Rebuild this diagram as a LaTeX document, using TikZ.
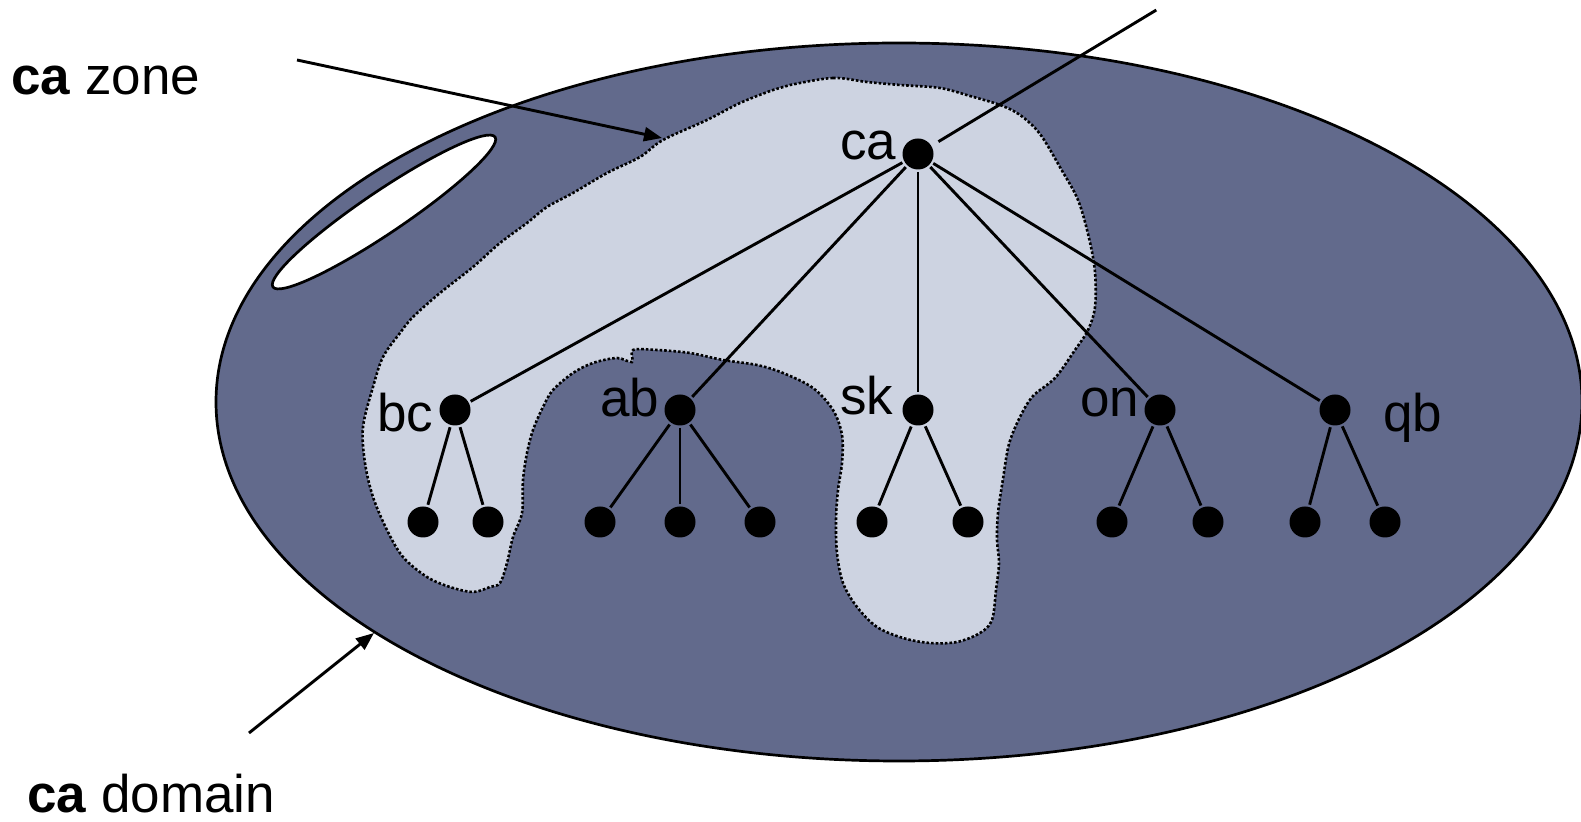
\documentclass[tikz,border=0pt]{standalone}
\usepackage{fontspec}
\setmainfont{Liberation Sans}
\usetikzlibrary{arrows.meta}
\definecolor{domainfill}{RGB}{98,106,140}
\definecolor{zonefill}{RGB}{205,211,225}
\begin{document}
\begin{tikzpicture}[x=0.5pt,y=-0.5pt,
  dot/.style={circle,fill=black,inner sep=0pt,minimum size=15.5pt},
  lbl/.style={anchor=base west,inner sep=0pt,font=\fontsize{26.5pt}{32pt}\selectfont},
  edge/.style={line width=1.45pt,shorten <=1pt,shorten >=1pt},
  ptr/.style={line width=1.45pt,-{Triangle[length=9pt,width=7pt]}},
  border/.style={line width=1.35pt,draw=black},
  zoneline/.style={line width=1.3pt,dash pattern=on 1.3pt off 1pt}]
\useasboundingbox (0,0) rectangle (1581,822);
% domain
\fill[domainfill] (899,402) ellipse [x radius=341.5pt,y radius=179.5pt];
\draw[border] (899,402) ellipse [x radius=341.5pt,y radius=179.5pt];
% hole
\draw[border,fill=white,rotate around={34:(384,212)}] (384,212) ellipse [x radius=67pt,y radius=10.5pt];
% zone
\fill[zonefill] plot[smooth cycle,tension=0.55] coordinates {
(790,85) (833,78) (867,82) (900,85) (940,88) (970,96) (1000,105) (1020,115)
(1040,134) (1061,169) (1078,200) (1089,238) (1095,272) (1095,307) (1088,330)
(1075,350) (1055,378) (1033,396) (1020,417) (1009,444) (1003,479) (998,513)
(997,540) (999,563) (996,590) (992,620) (980,633) (957,642) (930,643) (903,638)
(877,627) (857,607) (843,583) (837,553) (836,520) (838,490) (842,463) (842,435)
(833,410) (813,388) (783,373) (757,365) (723,360) (690,353) (657,350) (633,350)
(632,362) (617,358) (593,363) (573,373) (553,390) (543,407) (533,430) (527,453)
(523,480) (522,513) (513,537) (507,563) (500,583) (490,587) (473,592) (450,587)
(427,577) (403,557) (387,530) (373,497) (365,463) (363,427) (373,387) (383,357)
(400,333) (413,317) (440,293) (473,267) (500,243) (527,223) (547,207) (573,193)
(607,173) (640,157) (663,140) (707,120) (740,103) (773,90)};
\draw[zoneline] plot[smooth cycle,tension=0.55] coordinates {
(790,85) (833,78) (867,82) (900,85) (940,88) (970,96) (1000,105) (1020,115)
(1040,134) (1061,169) (1078,200) (1089,238) (1095,272) (1095,307) (1088,330)
(1075,350) (1055,378) (1033,396) (1020,417) (1009,444) (1003,479) (998,513)
(997,540) (999,563) (996,590) (992,620) (980,633) (957,642) (930,643) (903,638)
(877,627) (857,607) (843,583) (837,553) (836,520) (838,490) (842,463) (842,435)
(833,410) (813,388) (783,373) (757,365) (723,360) (690,353) (657,350) (633,350)
(632,362) (617,358) (593,363) (573,373) (553,390) (543,407) (533,430) (527,453)
(523,480) (522,513) (513,537) (507,563) (500,583) (490,587) (473,592) (450,587)
(427,577) (403,557) (387,530) (373,497) (365,463) (363,427) (373,387) (383,357)
(400,333) (413,317) (440,293) (473,267) (500,243) (527,223) (547,207) (573,193)
(607,173) (640,157) (663,140) (707,120) (740,103) (773,90)};
% nodes
\node[dot] (ca) at (918,154) {};
\node[dot] (bc) at (455,410) {};
\node[dot] (ab) at (680,410) {};
\node[dot] (sk) at (918,410) {};
\node[dot] (on) at (1160,410) {};
\node[dot] (qb) at (1335,410) {};
\node[dot] (bc1) at (423,522) {};
\node[dot] (bc2) at (488,522) {};
\node[dot] (ab1) at (600,522) {};
\node[dot] (ab2) at (680,522) {};
\node[dot] (ab3) at (760,522) {};
\node[dot] (sk1) at (872,522) {};
\node[dot] (sk2) at (968,522) {};
\node[dot] (on1) at (1112,522) {};
\node[dot] (on2) at (1208,522) {};
\node[dot] (qb1) at (1305,522) {};
\node[dot] (qb2) at (1385,522) {};
% edges
\foreach \c in {bc,ab,sk,on,qb} \draw[edge] (ca) -- (\c);
\draw[edge] (bc) -- (bc1); \draw[edge] (bc) -- (bc2);
\draw[edge] (ab) -- (ab1); \draw[edge] (ab) -- (ab2); \draw[edge] (ab) -- (ab3);
\draw[edge] (sk) -- (sk1); \draw[edge] (sk) -- (sk2);
\draw[edge] (on) -- (on1); \draw[edge] (on) -- (on2);
\draw[edge] (qb) -- (qb1); \draw[edge] (qb) -- (qb2);
% labels
\node[lbl] (lca) at (840,160) {ca};
\node[lbl] (lbc) at (377,432) {bc};
\node[lbl] (lab) at (600,417) {ab};
\node[lbl] (lsk) at (840,415) {sk};
\node[lbl] (lon) at (1080,417) {on};
\node[lbl] (lqb) at (1383,432) {qb};
\node[lbl] (zonetext) at (11,95) {\textbf{ca} zone};
\node[lbl] (domaintext) at (27,813) {\textbf{ca} domain};
% pointers
\coordinate (zs) at (297,60);
\coordinate (zt) at (662,138);
\coordinate (ds) at (249,733);
\coordinate (dt) at (374,633);
\coordinate (cap) at (1158,9);
\draw[ptr] (zs) -- (zt);
\draw[ptr] (ds) -- (dt);
\draw[edge,shorten >=4pt] (cap) -- (ca);
\end{tikzpicture}
\end{document}
